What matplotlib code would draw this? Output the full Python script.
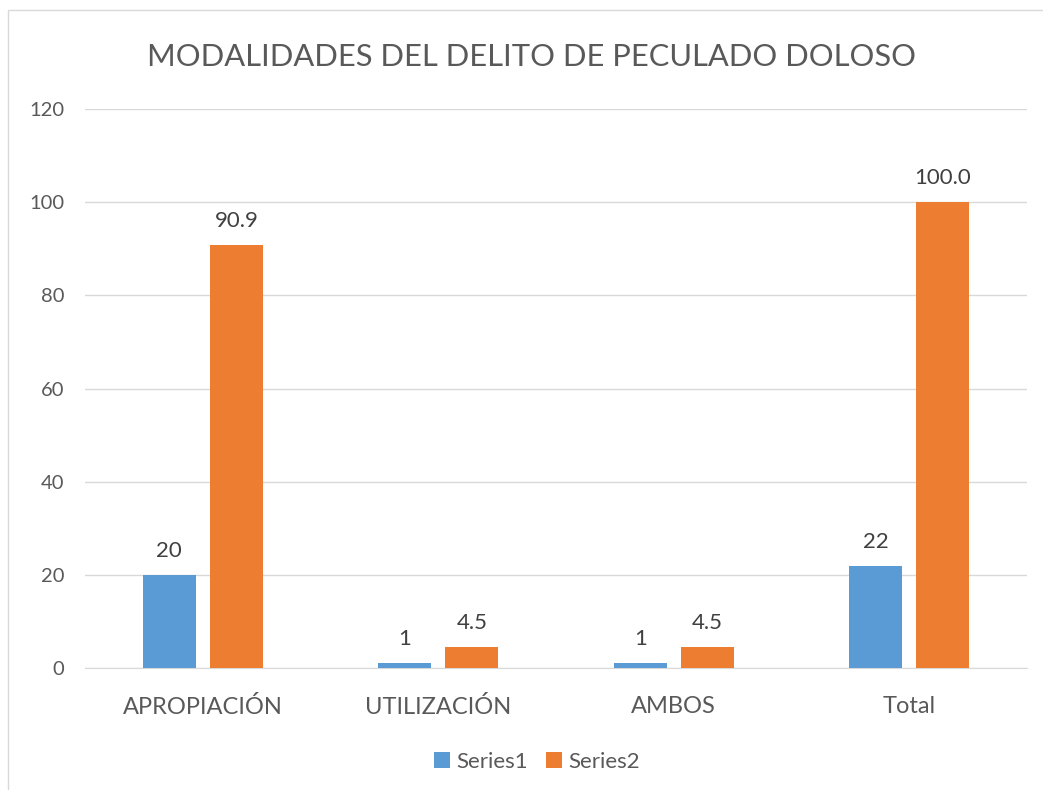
import numpy as np
import matplotlib
matplotlib.use("Agg")
import matplotlib.pyplot as plt
from matplotlib.patches import Rectangle

categorias = ["APROPIACIÓN", "UTILIZACIÓN", "AMBOS", "Total"]
series1 = [20, 1, 1, 22]
series2 = [90.9, 4.5, 4.5, 100.0]
etiq1 = ["20", "1", "1", "22"]
etiq2 = ["90.9", "4.5", "4.5", "100.0"]

azul = "#5B9BD5"
naranja = "#ED7D31"
gris = "#595959"

plt.rcParams['font.family'] = ['Lato', 'DejaVu Sans']

fig = plt.figure(figsize=(10.43, 7.9), dpi=100)
ax = fig.add_axes([0.0815, 0.1544, 0.9032, 0.7076])

# borde del grafico
fig.patches.append(Rectangle((8 / 1043, -0.01), 1.02, 1 - 10 / 790 + 0.01,
                             transform=fig.transFigure, fill=False,
                             edgecolor="#D9D9D9", linewidth=1))

x = np.arange(len(categorias))
ancho = 0.225
sep = 0.06
b1 = ax.bar(x - (ancho + sep) / 2, series1, ancho, color=azul, label="Series1", zorder=3)
b2 = ax.bar(x + (ancho + sep) / 2, series2, ancho, color=naranja, label="Series2", zorder=3)

for rect, t in zip(b1, etiq1):
    ax.text(rect.get_x() + rect.get_width() / 2, rect.get_height() + 3, t,
            ha="center", va="bottom", fontsize=16, color="#404040")
for rect, t in zip(b2, etiq2):
    ax.text(rect.get_x() + rect.get_width() / 2, rect.get_height() + 3, t,
            ha="center", va="bottom", fontsize=16, color="#404040")

ax.set_xlim(-0.5, len(categorias) - 0.5)
ax.set_ylim(0, 120)
ax.set_yticks(range(0, 121, 20))
ax.set_xticks(x)
ax.set_xticklabels(categorias)
ax.tick_params(axis="y", length=0, labelsize=14.5, labelcolor=gris, pad=15)
ax.tick_params(axis="x", length=0, labelsize=17, labelcolor=gris, pad=20)
ax.grid(axis="y", color="#D9D9D9", linewidth=1, zorder=0)
for s in ["top", "right", "left"]:
    ax.spines[s].set_visible(False)
ax.spines["bottom"].set_color("#D9D9D9")

fig.text(0.51, 0.928, "MODALIDADES DEL DELITO DE PECULADO DOLOSO",
         ha="center", va="center", fontsize=22.2, color=gris)

fig.legend(handles=[b1, b2], loc="center", bbox_to_anchor=(0.515, 0.036),
           ncol=2, frameon=False, fontsize=16, handlelength=0.7, handleheight=0.7,
           columnspacing=0.8, handletextpad=0.3, labelcolor=gris)

fig.savefig("out.png", dpi=100)
